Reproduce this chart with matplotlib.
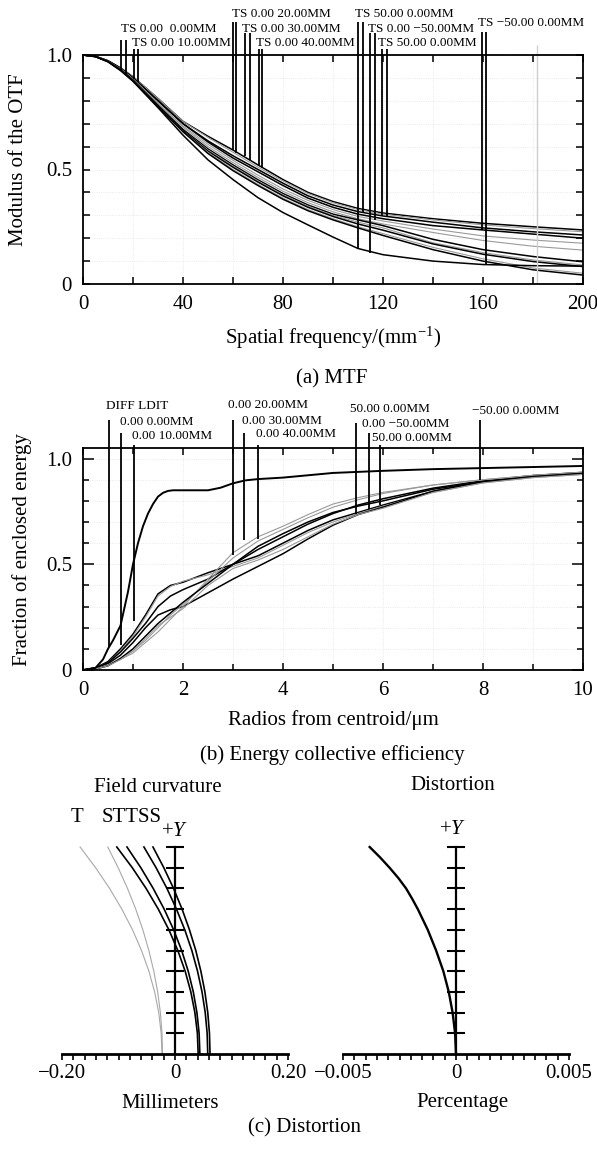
import numpy as np
import matplotlib
matplotlib.use("Agg")
import matplotlib.pyplot as plt

plt.rcParams['font.family'] = ['Liberation Serif', 'DejaVu Serif']
plt.rcParams['mathtext.fontset'] = 'custom'
plt.rcParams['mathtext.rm'] = 'Liberation Serif'
plt.rcParams['mathtext.it'] = 'Liberation Serif:italic'

W, H = 597, 1149

# ---------------- (a) MTF data ----------------
mtf_freq = [0, 5, 10, 15, 20, 30, 40, 50, 60, 70, 80, 90, 100, 110, 120, 140, 160, 180, 200]
mtf_curves = [
    [1.0, 0.994, 0.975, 0.944, 0.905, 0.81, 0.71, 0.645, 0.585, 0.52, 0.456, 0.40, 0.36, 0.33, 0.31, 0.285, 0.265, 0.25, 0.236],
    [1.0, 0.994, 0.975, 0.944, 0.905, 0.81, 0.71, 0.64, 0.575, 0.51, 0.45, 0.395, 0.355, 0.325, 0.305, 0.28, 0.258, 0.242, 0.228],
    [1.0, 0.994, 0.974, 0.942, 0.90, 0.80, 0.70, 0.625, 0.56, 0.50, 0.44, 0.385, 0.345, 0.316, 0.297, 0.27, 0.245, 0.228, 0.214],
    [1.0, 0.994, 0.974, 0.942, 0.90, 0.80, 0.70, 0.62, 0.55, 0.49, 0.43, 0.375, 0.335, 0.305, 0.285, 0.255, 0.236, 0.218, 0.20],
    [1.0, 0.994, 0.973, 0.939, 0.895, 0.79, 0.69, 0.61, 0.54, 0.475, 0.415, 0.365, 0.325, 0.295, 0.275, 0.24, 0.21, 0.192, 0.178],
    [1.0, 0.994, 0.973, 0.939, 0.895, 0.79, 0.685, 0.60, 0.53, 0.465, 0.405, 0.355, 0.315, 0.285, 0.262, 0.225, 0.19, 0.165, 0.148],
    [1.0, 0.993, 0.972, 0.936, 0.89, 0.78, 0.675, 0.59, 0.52, 0.455, 0.395, 0.345, 0.305, 0.28, 0.255, 0.195, 0.15, 0.12, 0.097],
    [1.0, 0.993, 0.972, 0.936, 0.89, 0.78, 0.67, 0.585, 0.515, 0.45, 0.39, 0.34, 0.30, 0.27, 0.245, 0.18, 0.137, 0.105, 0.083],
    [1.0, 0.993, 0.972, 0.936, 0.89, 0.78, 0.67, 0.58, 0.51, 0.445, 0.385, 0.335, 0.295, 0.262, 0.235, 0.175, 0.13, 0.098, 0.076],
    [1.0, 0.993, 0.971, 0.934, 0.888, 0.775, 0.665, 0.575, 0.50, 0.435, 0.375, 0.325, 0.285, 0.25, 0.22, 0.16, 0.11, 0.07, 0.047],
    [1.0, 0.993, 0.971, 0.934, 0.888, 0.775, 0.665, 0.57, 0.495, 0.43, 0.37, 0.32, 0.28, 0.245, 0.212, 0.15, 0.10, 0.062, 0.039],
    [1.0, 0.993, 0.97, 0.932, 0.885, 0.77, 0.65, 0.542, 0.456, 0.377, 0.312, 0.258, 0.205, 0.155, 0.128, 0.10, 0.085, 0.08, 0.078],
]
mtf_gray = [False, True, False, False, True, True, False, True, False, True, False, False]

# label marker lines (x, bottom, top)
mtf_mark_x = [15, 17, 20.5, 22, 59.8, 61.2, 64.7, 66.7, 70.3, 71.6,
              109.9, 111.8, 114.8, 116.8, 119.7, 121.5, 159.5, 161.2]
mtf_mark_lo = [0.931, 0.914, 0.895, 0.88, 0.586, 0.571, 0.557, 0.542, 0.514, 0.506,
               0.151, 0.316, 0.137, 0.28, 0.297, 0.297, 0.236, 0.083]
mtf_mark_hi = [1.066, 1.066, 1.026, 1.026, 1.144, 1.144, 1.096, 1.096, 1.026, 1.026,
               1.144, 1.144, 1.096, 1.096, 1.026, 1.026, 1.10, 1.10]
mtf_label_text = ["TS 0.00  0.00MM", "TS 0.00 10.00MM", "TS 0.00 20.00MM", "TS 0.00 30.00MM",
                  "TS 0.00 40.00MM", "TS 50.00 0.00MM", "TS 0.00 \u221250.00MM",
                  "TS 50.00 0.00MM", "TS \u221250.00 0.00MM"]
mtf_label_x = [15.1, 19.5, 59.5, 63.7, 69.1, 108.8, 114.1, 117.9, 158.1]
mtf_label_y = [1.114, 1.052, 1.179, 1.114, 1.052, 1.179, 1.114, 1.052, 1.14]
mtf_gray_line = 181.5

# ---------------- (b) enclosed energy data ----------------
ee_diff_r = [0, 0.25, 0.4, 0.5, 0.6, 0.75, 0.9, 1.0, 1.1, 1.2, 1.3, 1.4, 1.5, 1.6, 1.7, 1.8,
             2.0, 2.5, 2.75, 3.0, 3.25, 3.5, 4.0, 5.0, 6.0, 7.0, 8.0, 9.0, 10.0]
ee_diff = [0, 0.01, 0.05, 0.10, 0.14, 0.21, 0.37, 0.50, 0.60, 0.68, 0.74, 0.785, 0.82, 0.838, 0.847, 0.85,
           0.85, 0.85, 0.862, 0.883, 0.897, 0.903, 0.91, 0.932, 0.942, 0.95, 0.955, 0.96, 0.965]

ee_r = [0, 0.25, 0.5, 0.75, 1.0, 1.25, 1.5, 1.75, 2.0, 2.5, 3.0, 3.5, 4.0, 4.5, 5.0, 5.5, 6.0, 7.0, 8.0, 9.0, 10.0]
ee_curves = [
    [0, 0.01, 0.04, 0.10, 0.17, 0.26, 0.36, 0.40, 0.415, 0.46, 0.50, 0.54, 0.60, 0.66, 0.71, 0.745, 0.78, 0.845, 0.89, 0.915, 0.93],
    [0, 0.01, 0.035, 0.09, 0.16, 0.25, 0.35, 0.395, 0.42, 0.45, 0.49, 0.53, 0.59, 0.65, 0.70, 0.74, 0.775, 0.84, 0.885, 0.91, 0.925],
    [0, 0.01, 0.035, 0.085, 0.15, 0.22, 0.30, 0.35, 0.38, 0.43, 0.50, 0.57, 0.63, 0.69, 0.74, 0.78, 0.81, 0.86, 0.895, 0.92, 0.935],
    [0, 0.01, 0.03, 0.07, 0.13, 0.20, 0.26, 0.285, 0.30, 0.365, 0.43, 0.49, 0.55, 0.62, 0.685, 0.735, 0.77, 0.845, 0.89, 0.915, 0.93],
    [0, 0.005, 0.025, 0.05, 0.08, 0.13, 0.18, 0.24, 0.30, 0.43, 0.555, 0.63, 0.68, 0.735, 0.785, 0.815, 0.84, 0.875, 0.90, 0.92, 0.935],
    [0, 0.005, 0.02, 0.05, 0.09, 0.14, 0.20, 0.26, 0.31, 0.42, 0.53, 0.61, 0.665, 0.72, 0.77, 0.805, 0.835, 0.875, 0.90, 0.92, 0.935],
    [0, 0.005, 0.02, 0.055, 0.10, 0.16, 0.22, 0.27, 0.32, 0.41, 0.50, 0.585, 0.645, 0.70, 0.745, 0.775, 0.80, 0.855, 0.89, 0.915, 0.93],
    [0, 0.005, 0.02, 0.05, 0.09, 0.15, 0.21, 0.25, 0.29, 0.40, 0.48, 0.52, 0.57, 0.63, 0.69, 0.735, 0.765, 0.84, 0.885, 0.91, 0.925],
]
ee_gray = [False, True, False, False, True, True, False, True]

ee_mark_x = [0.51, 0.75, 1.01, 2.99, 3.22, 3.49, 5.46, 5.72, 5.94, 7.94]
ee_mark_lo = [0.109, 0.117, 0.23, 0.543, 0.614, 0.62, 0.736, 0.763, 0.779, 0.897]
ee_mark_hi = [1.181, 1.121, 1.063, 1.181, 1.121, 1.063, 1.170, 1.121, 1.063, 1.181]
ee_label_text = ["DIFF LDIT", "0.00 0.00MM", "0.00 10.00MM", "0.00 20.00MM", "0.00 30.00MM",
                 "0.00 40.00MM", "50.00 0.00MM", "0.00 \u221250.00MM", "50.00 0.00MM", "\u221250.00 0.00MM"]
ee_label_x = [0.47, 0.73, 0.99, 2.91, 3.19, 3.45, 5.33, 5.57, 5.79, 7.77]
ee_label_y = [1.247, 1.172, 1.106, 1.252, 1.176, 1.115, 1.233, 1.162, 1.098, 1.225]

# ---------------- (c) field curvature / distortion ----------------
field_y = [0, 0.1, 0.2, 0.3, 0.4, 0.5, 0.6, 0.7, 0.8, 0.9, 1.0]
fc_curves = [
    [-0.023, -0.0245, -0.0288, -0.0361, -0.0462, -0.0593, -0.0752, -0.0941, -0.1158, -0.1405, -0.168],
    [-0.022, -0.0230, -0.0259, -0.0307, -0.0375, -0.0463, -0.0569, -0.0695, -0.0841, -0.1006, -0.119],
    [0.041, 0.0396, 0.0352, 0.0280, 0.0180, 0.0050, -0.0108, -0.0296, -0.0512, -0.0756, -0.103],
    [0.044, 0.0427, 0.0388, 0.0324, 0.0234, 0.0118, -0.0024, -0.0192, -0.0386, -0.0605, -0.085],
    [0.058, 0.0569, 0.0535, 0.0478, 0.0399, 0.0298, 0.0173, 0.0026, -0.0143, -0.0335, -0.055],
    [0.062, 0.0610, 0.0580, 0.0529, 0.0458, 0.0368, 0.0256, 0.0125, -0.0026, -0.0198, -0.039],
]
fc_gray = [True, True, False, False, False, False]
dist_y = [0, 0.1, 0.2, 0.3, 0.4, 0.5, 0.6, 0.7, 0.75, 0.8, 0.85, 0.9, 0.95, 1.0]
dist_x = [0, -0.00004, -0.00015, -0.00032, -0.00056, -0.00088, -0.00125, -0.00169, -0.00194,
          -0.00221, -0.00255, -0.00294, -0.00336, -0.00382]

fig = plt.figure(figsize=(W / 100, H / 100), dpi=100)


def box(l, t, r, b):
    return [l / W, 1 - b / H, (r - l) / W, (b - t) / H]


def ftext(px, py, s, **kw):
    kw.setdefault('ha', 'center')
    kw.setdefault('va', 'center')
    kw.setdefault('fontsize', 15)
    fig.text(px / W, 1 - py / H, s, **kw)


def style_box(ax):
    for sp in ax.spines.values():
        sp.set_linewidth(1.3)
    ax.tick_params(which='both', direction='in', top=True, right=True, labelsize=15,
                   width=1.1, pad=8)
    ax.tick_params(which='major', length=5)
    ax.tick_params(which='minor', length=4)
    ax.grid(True, color='#e4e4e4', linestyle=':', linewidth=0.6)


# (a) MTF
ax1 = fig.add_axes(box(83, 55, 583, 284))
for ys, g in zip(mtf_curves, mtf_gray):
    ax1.plot(mtf_freq, ys, color='#9a9a9a' if g else 'black', lw=0.8 if g else 1.1)
ax1.vlines(mtf_mark_x, mtf_mark_lo, mtf_mark_hi, color='black', lw=1.3, clip_on=False)
ax1.vlines([mtf_gray_line], 0, 1.044, color='#cfcfcf', lw=1.0, clip_on=False)
for s, x, y in zip(mtf_label_text, mtf_label_x, mtf_label_y):
    ax1.text(x, y, s, fontsize=9.5, ha='left', va='center', clip_on=False)
ax1.set_xlim(0, 200)
ax1.set_ylim(0, 1)
ax1.set_xticks(range(0, 201, 20))
ax1.set_xticklabels(['0', '', '40', '', '80', '', '120', '', '160', '', '200'])
ax1.set_yticks([0, 0.1, 0.2, 0.3, 0.4, 0.5, 0.6, 0.7, 0.8, 0.9, 1.0])
ax1.set_yticklabels(['0', '', '', '', '', '0.5', '', '', '', '', '1.0'])
style_box(ax1)
ftext(19, 160, 'Modulus of the OTF', rotation=90)
ftext(333, 338, 'Spatial frequency/(mm$^{-1}$)')
ftext(332, 379, '(a) MTF')

# (b) enclosed energy
ax2 = fig.add_axes(box(83, 448, 583, 670))
for ys, g in zip(ee_curves, ee_gray):
    ax2.plot(ee_r, ys, color='#9a9a9a' if g else 'black', lw=0.8 if g else 1.1)
ax2.plot(ee_diff_r, ee_diff, color='black', lw=1.4)
ax2.vlines(ee_mark_x, ee_mark_lo, ee_mark_hi, color='black', lw=1.3, clip_on=False)
for s, x, y in zip(ee_label_text, ee_label_x, ee_label_y):
    ax2.text(x, y, s, fontsize=9.5, ha='left', va='center', clip_on=False)
ax2.set_xlim(0, 10)
ax2.set_ylim(0, 1.05)
ax2.set_xticks(range(0, 11, 2))
ax2.set_xticks(range(0, 11), minor=True)
ax2.set_yticks([0, 0.5, 1.0])
ax2.set_yticklabels(['0', '0.5', '1.0'])
ax2.set_yticks([0.1, 0.2, 0.3, 0.4, 0.6, 0.7, 0.8, 0.9], minor=True)
style_box(ax2)
ax2.tick_params(which='major', axis='y', length=8)
ax2.grid(False)
ax2.grid(True, which='both', color='#e4e4e4', linestyle=':', linewidth=0.6)
ftext(22, 550, 'Fraction of enclosed energy', rotation=90)
ftext(333, 720, 'Radios from centroid/\u03bcm')
ftext(332, 755, '(b) Energy collective efficiency')


def style_cross(ax, lim, labels):
    ax.set_xlim(-lim, lim)
    ax.set_ylim(0, 1)
    ax.spines['top'].set_visible(False)
    ax.spines['right'].set_visible(False)
    ax.spines['left'].set_position(('data', 0))
    ax.spines['left'].set_linewidth(1.6)
    ax.spines['bottom'].set_linewidth(2.0)
    ax.patch.set_alpha(0)
    ax.set_yticks(field_y[1:])
    ax.tick_params(axis='y', direction='inout', length=13, width=1.5, labelleft=False)
    ax.set_xticks([-lim, 0, lim])
    ax.set_xticklabels(labels)
    ax.set_xticks(np.linspace(-lim, lim, 21), minor=True)
    ax.tick_params(axis='x', which='both', direction='out', length=4, width=1.2,
                   labelsize=15, pad=3)


# (c) field curvature
ax3 = fig.add_axes(box(62, 847, 288, 1054))
for xs, g in zip(fc_curves, fc_gray):
    ax3.plot(xs, field_y, color='#a8a8a8' if g else 'black', lw=0.8 if g else 1.2, clip_on=False)
style_cross(ax3, 0.2, ['\u22120.20', '0', '0.20'])
ftext(158, 787, 'Field curvature')
ftext(77, 817, 'T')
ftext(132, 817, 'STTSS')
ftext(175, 831, '+$\\mathit{Y}$')
ftext(170, 1103, 'Millimeters')

# distortion
ax4 = fig.add_axes(box(343, 847, 569, 1054))
ax4.plot(dist_x, dist_y, color='black', lw=1.7, clip_on=False)
style_cross(ax4, 0.005, ['\u22120.005', '0', '0.005'])
ftext(453, 786, 'Distortion')
ftext(453, 830, '+$\\mathit{Y}$')
ftext(462, 1103, 'Percentage')
ftext(304, 1128, '(c) Distortion')

fig.savefig('out.png', dpi=100)
